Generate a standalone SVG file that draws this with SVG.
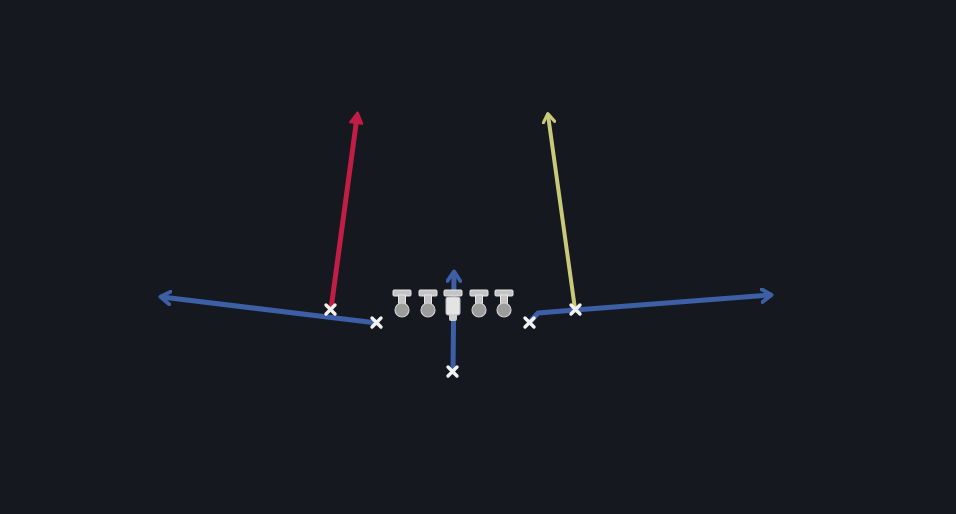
<svg xmlns="http://www.w3.org/2000/svg" width="956" height="514" viewBox="0 0 956 514">
<style>
.route{fill:none;stroke-linecap:round;stroke-linejoin:round}
.blue{stroke:#3d5fa6;stroke-width:5}
.red{stroke:#c21d44;stroke-width:5}
.yellow{stroke:#c9c978;stroke-width:4}
.x{stroke:#f2f2f2;stroke-width:3.4;stroke-linecap:round}
.tbar{fill:#c4c4c4;stroke:#e6e6e6;stroke-width:1}
.ball{fill:#9c9c9c;stroke:#cfcfcf;stroke-width:1.2}
</style>
<defs>
<marker id="ahBlue" viewBox="0 0 10 10" refX="6" refY="5" markerWidth="3.2" markerHeight="3.2" orient="auto" markerUnits="strokeWidth">
<path d="M1,1 L7,5 L1,9" fill="none" stroke="#3d5fa6" stroke-width="2.4" stroke-linejoin="round" stroke-linecap="round"/>
</marker>
<marker id="ahRed" viewBox="0 0 10 10" refX="5" refY="5" markerWidth="3" markerHeight="3" orient="auto" markerUnits="strokeWidth">
<path d="M1,1 L8,5 L1,9 Z" fill="#c21d44" stroke="#c21d44" stroke-width="1.5" stroke-linejoin="round"/>
</marker>
<marker id="ahYellow" viewBox="0 0 10 10" refX="6" refY="5" markerWidth="3.6" markerHeight="3.6" orient="auto" markerUnits="strokeWidth">
<path d="M1,1 L7,5 L1,9" fill="none" stroke="#c9c978" stroke-width="2.2" stroke-linejoin="round" stroke-linecap="round"/>
</marker>
</defs>
<rect width="956" height="514" fill="#15181f"/>
<g id="connectors">
<path class="route blue" d="M377,323 L162,297" marker-end="url(#ahBlue)"/>
<path class="route blue" d="M530,322 L538,313 L575,310 L770,295" marker-end="url(#ahBlue)"/>
<path class="route blue" d="M453,372 L454,273" marker-end="url(#ahBlue)"/>
<path class="route red" d="M331,309 L357,117" marker-end="url(#ahRed)"/>
<path class="route yellow" d="M575,309 L548,115" marker-end="url(#ahYellow)"/>
</g>
<g id="lineman-1">
<rect class="tbar" x="393" y="290" width="18" height="6" rx="1"/>
<rect class="tbar" x="398.5" y="295" width="7" height="9"/>
<circle class="ball" cx="402" cy="310" r="7"/>
</g>
<g id="lineman-2">
<rect class="tbar" x="419" y="290" width="18" height="6" rx="1"/>
<rect class="tbar" x="424.5" y="295" width="7" height="9"/>
<circle class="ball" cx="428" cy="310" r="7"/>
</g>
<g id="center">
<rect class="tbar" x="444" y="290" width="18" height="6" rx="1"/>
<rect x="446" y="297" width="14" height="18" rx="2" fill="#e4e4e4" stroke="#bdbdbd" stroke-width="1"/>
<rect x="449" y="314" width="8" height="7" rx="2" fill="#cfcfcf"/>
</g>
<g id="lineman-4">
<rect class="tbar" x="470" y="290" width="18" height="6" rx="1"/>
<rect class="tbar" x="475.5" y="295" width="7" height="9"/>
<circle class="ball" cx="479" cy="310" r="7"/>
</g>
<g id="lineman-5">
<rect class="tbar" x="495" y="290" width="18" height="6" rx="1"/>
<rect class="tbar" x="500.5" y="295" width="7" height="9"/>
<circle class="ball" cx="504" cy="310" r="7"/>
</g>
<g id="receiver-left-outer"><path class="x" d="M326,305 L335,314 M335,305 L326,314"/></g>
<g id="receiver-left-inner"><path class="x" d="M372,318 L381,327 M381,318 L372,327"/></g>
<g id="receiver-right-inner"><path class="x" d="M525,318 L534,327 M534,318 L525,327"/></g>
<g id="receiver-right-outer"><path class="x" d="M571,305 L580,314 M580,305 L571,314"/></g>
<g id="quarterback"><path class="x" d="M448,367 L457,376 M457,367 L448,376"/></g>
</svg>
